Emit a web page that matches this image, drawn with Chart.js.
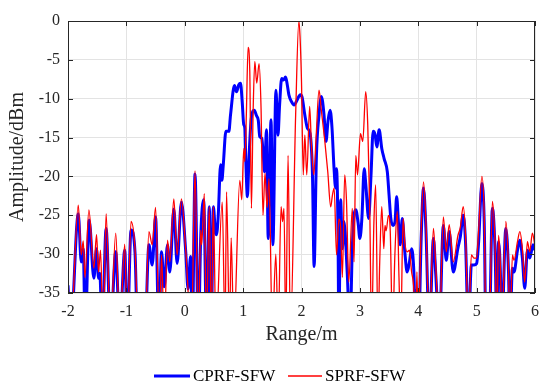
<!DOCTYPE html>
<html>
<head>
<meta charset="utf-8">
<script src="https://cdn.jsdelivr.net/npm/chart.js@4.4.1/dist/chart.umd.min.js"></script>
<style>
  html, body { margin: 0; padding: 0; background: #fff; }
  #wrap { width: 550px; height: 391px; }
</style>
</head>
<body>
<div id="wrap"><canvas id="chart" width="550" height="391"></canvas></div>
<script>
// CPRF-SFW (blue) - range in m, amplitude in dBm
const rangeCPRF = [-2.0, -1.955, -1.824, -1.773, -1.739, -1.705, -1.637, -1.557, -1.511, -1.477, -1.455, -1.415,
  -1.347, -1.273, -1.182, -1.114, -1.028, -0.985, -0.92, -0.852, -0.807, -0.682, -0.614, -0.557, -0.5, -0.443,
  -0.398, -0.352, -0.295, -0.256, -0.187, -0.131, -0.057, 0.017, 0.057, 0.1, 0.13, 0.176, 0.233, 0.275, 0.324,
  0.375, 0.42, 0.455, 0.49, 0.525, 0.545, 0.574, 0.614, 0.636, 0.66, 0.705, 0.756, 0.784, 0.852, 0.886, 0.926,
  0.955, 0.985, 1.01, 1.03, 1.045, 1.074, 1.1, 1.14, 1.19, 1.23, 1.26, 1.285, 1.32, 1.345, 1.368, 1.4, 1.43,
  1.478, 1.51, 1.562, 1.597, 1.625, 1.66, 1.693, 1.727, 1.756, 1.784, 1.83, 1.875, 1.91, 1.955, 1.98, 2.01,
  2.057, 2.102, 2.148, 2.188, 2.216, 2.256, 2.3, 2.34, 2.386, 2.42, 2.455, 2.49, 2.523, 2.556, 2.585, 2.6,
  2.625, 2.64, 2.67, 2.7, 2.727, 2.784, 2.83, 2.87, 2.9, 2.93, 2.97, 3.0, 3.035, 3.074, 3.102, 3.15, 3.19,
  3.227, 3.26, 3.29, 3.33, 3.375, 3.415, 3.47, 3.5, 3.53, 3.568, 3.602, 3.63, 3.66, 3.69, 3.727, 3.77, 3.81,
  3.85, 3.886, 3.925, 3.955, 3.98, 4.005, 4.05, 4.09, 4.13, 4.19, 4.26, 4.3, 4.36, 4.43, 4.48, 4.53, 4.6,
  4.68, 4.72, 4.77, 4.81, 4.86, 4.91, 4.955, 5.0, 5.034, 5.09, 5.13, 5.16, 5.216, 5.27, 5.318, 5.347, 5.375,
  5.41, 5.43, 5.5, 5.545, 5.57, 5.614, 5.64, 5.7, 5.74, 5.784, 5.824, 5.87, 5.91, 5.966, 6.0];
const ampCPRF = [-34, -40, -24.8, -31, -29.3, -40, -25.6, -33.1, -29.3, -33.1, -32.5, -40,
  -26.7, -40, -29.7, -40, -29.5, -40, -26.9, -29.8, -40, -40, -28.8, -31.4, -25.2, -40,
  -29.7, -34.2, -28.8, -32.3, -24.2, -31.2, -23.3, -29.7, -34.5, -30.3, -40, -19.7, -40, -27.5, -23.0,
  -40, -23.9, -40, -23.9, -27.1, -27.5, -25, -18.5, -20.5, -18.5, -14.2, -14.2, -12.1, -8.3, -9.1, -8.2,
  -8.0, -10.5, -13.3, -13.8, -17.7, -22.6, -17.7, -12.5, -11.5, -12.2, -12.8, -14.9, -15.1, -17.3, -19.4, -14.0, -28.0,
  -12.7, -28.8, -8.9, -14.7, -10.8, -7.4, -7.6, -7.2, -8.2, -9.5, -10.4, -10.8, -10.4, -9.7, -9.5, -9.8,
  -12.1, -13.8, -14.5, -19.8, -31.6, -17.3, -12.1, -9.7, -12.1, -15.5, -12.8, -11.5, -13.8, -18.8, -21.5, -19.0,
  -27, -40, -23, -29.3, -25.8, -32.5, -40, -29.3, -25, -24.3, -26, -28, -25.3, -19, -21.1, -25.4, -20,
  -14.2, -14.6, -16.2, -14.0, -16.4, -17.7, -19.4, -22.4, -25.4, -26.3, -25.8, -22.6, -25.8, -28.8, -25.4, -29.7, -32.3,
  -31, -29.3, -32.3, -40, -34.5, -40, -28, -21.5, -26.6, -40, -28.0, -32.6, -40, -26.3, -30.8, -27.1, -32.3,
  -29.2, -27.8, -25, -28.5, -40, -31.4, -31.4, -31.2, -28.5, -20.9, -25.8, -40, -40, -24.1, -30.1, -40, -28.4,
  -33, -40, -26.7, -32, -40, -31.8, -32.3, -29.5, -28.2, -30.5, -34.4, -29.5, -30.5, -28.8, -29.5];

// SPRF-SFW (red)
const rangeSPRF = [-2.0, -1.955, -1.824, -1.773, -1.739, -1.71, -1.642, -1.557, -1.511, -1.477, -1.443, -1.398,
  -1.347, -1.273, -1.182, -1.114, -1.028, -0.985, -0.92, -0.852, -0.795, -0.682, -0.614, -0.557, -0.5, -0.432,
  -0.398, -0.352, -0.295, -0.256, -0.187, -0.131, -0.057, 0.017, 0.114, 0.176, 0.233, 0.273, 0.29, 0.335, 0.37,
  0.42, 0.455, 0.49, 0.534, 0.642, 0.69, 0.716, 0.767, 0.795, 0.84, 0.943, 0.977, 1.011, 1.03, 1.055, 1.085,
  1.114, 1.142, 1.17, 1.2, 1.233, 1.273, 1.307, 1.34, 1.375, 1.41, 1.443, 1.5, 1.56, 1.6, 1.65, 1.676, 1.7,
  1.73, 1.77, 1.81, 1.9, 1.955, 1.975, 2.0, 2.03, 2.057, 2.09, 2.14, 2.17, 2.21, 2.25, 2.3, 2.34, 2.4, 2.45,
  2.5, 2.53, 2.56, 2.6, 2.64, 2.67, 2.7, 2.74, 2.77, 2.81, 2.87, 2.9, 2.93, 2.96, 3.01, 3.05, 3.1, 3.135,
  3.17, 3.2, 3.24, 3.27, 3.31, 3.34, 3.375, 3.41, 3.43, 3.45, 3.49, 3.52, 3.56, 3.6, 3.64, 3.67, 3.7, 3.74,
  3.77, 3.81, 3.85, 3.886, 3.92, 3.955, 3.977, 4.0, 4.045, 4.09, 4.13, 4.19, 4.26, 4.3, 4.36, 4.43, 4.48,
  4.53, 4.6, 4.68, 4.72, 4.77, 4.81, 4.86, 4.91, 4.955, 5.0, 5.034, 5.09, 5.13, 5.16, 5.216, 5.27, 5.318,
  5.347, 5.375, 5.41, 5.43, 5.5, 5.545, 5.57, 5.614, 5.64, 5.7, 5.74, 5.784, 5.824, 5.87, 5.91, 5.955, 6.0];
const ampSPRF = [-33.1, -40, -23.7, -30.1, -28.3, -33, -24.3, -31.8, -27.5, -32.3, -29.5, -40,
  -24.8, -40, -27.3, -40, -28.7, -40, -25.8, -29.3, -40, -40, -27.1, -28.8, -24.0, -40,
  -30.1, -40, -28.2, -31, -22.9, -30.1, -22.9, -29.5, -40, -19.3, -40, -26.9, -28.8, -22.2, -40,
  -23.9, -40, -23.9, -40, -23.3, -40, -22, -40, -27.9, -40, -20.5, -23, -16.4, -18.1, -12.1, -3.4,
  -6.5, -24.1, -12.1, -5.2, -8.0, -5.5, -11.2, -25, -19.6, -24, -20.3, -40, -30, -40, -23.9, -25.8, -24.1,
  -40, -17.3, -40, -12, 0, -2, -7.8, -19.8, -14.7, -19.8, -11, -16, -19.8, -15, -8.9, -11.5, -15.5, -19.4,
  -23.9, -22.4, -21.5, -30.1, -25.5, -26.5, -33, -19.8, -23, -33.6, -24.1, -31, -17.3, -19.8, -14.5, -15.5, -9.1, -13.4,
  -24.5, -40, -26, -21.1, -40, -31, -23.9, -29.3, -26.3, -27, -25, -27, -40, -30, -24.5, -33, -40, -25.4,
  -28.5, -29.7, -29.5, -32.3, -34, -40, -32.3, -40, -28, -20.7, -25.5, -40, -26.7, -31.5, -40, -25.2, -29.7,
  -26.2, -31, -27.6, -26.6, -23.9, -27.6, -40, -30.1, -30.5, -30.5, -27, -20, -25, -40, -40, -23.2, -29.3,
  -40, -27.6, -32.3, -40, -25.8, -31.6, -40, -30.1, -30.8, -28.4, -27.1, -29.3, -33.6, -28.4, -29.7, -27.3, -29];

const serif = '"Liberation Serif", "Times New Roman", serif';

// box round the plot with inward ticks, like the matlab figure
const boxTicks = {
  id: 'boxTicks',
  afterDatasetsDraw(chart) {
    const { ctx, chartArea: a, scales: { x, y } } = chart;
    ctx.save();
    ctx.strokeStyle = '#262626';
    ctx.lineWidth = 1;
    ctx.beginPath();
    x.ticks.forEach(t => {
      const px = Math.round(x.getPixelForValue(t.value)) + 0.5;
      ctx.moveTo(px, a.bottom); ctx.lineTo(px, a.bottom - 5);
      ctx.moveTo(px, a.top); ctx.lineTo(px, a.top + 5);
    });
    y.ticks.forEach(t => {
      const py = Math.round(y.getPixelForValue(t.value)) + 0.5;
      ctx.moveTo(a.left, py); ctx.lineTo(a.left + 5, py);
      ctx.moveTo(a.right, py); ctx.lineTo(a.right - 5, py);
    });
    ctx.stroke();
    ctx.strokeRect(Math.round(a.left) + 0.5, Math.round(a.top) + 0.5,
      Math.round(a.width) - 1, Math.round(a.height) - 1);
    ctx.restore();
  }
};

// legend under the axis: short line then label, matlab style spacing
const bottomLegend = {
  id: 'bottomLegend',
  afterDraw(chart) {
    const ctx = chart.ctx;
    const yMid = 376;
    const slots = [{ x0: 154, x1: 190, tx: 193 }, { x0: 288, x1: 322, tx: 325 }];
    ctx.save();
    ctx.font = '17px ' + serif;
    ctx.textBaseline = 'middle';
    ctx.fillStyle = '#000';
    chart.data.datasets.forEach((ds, i) => {
      const s = slots[i];
      ctx.strokeStyle = ds.borderColor;
      ctx.lineWidth = ds.borderWidth;
      ctx.beginPath();
      ctx.moveTo(s.x0, yMid);
      ctx.lineTo(s.x1, yMid);
      ctx.stroke();
      ctx.fillText(ds.label, s.tx, yMid + 1);
    });
    ctx.restore();
  }
};

const ctx = document.getElementById('chart').getContext('2d');
new Chart(ctx, {
  type: 'line',
  data: {
    datasets: [
      {
        label: 'CPRF-SFW',
        data: rangeCPRF.map((r, i) => ({ x: r, y: ampCPRF[i] })),
        borderColor: '#0000ff',
        backgroundColor: '#0000ff',
        borderWidth: 3,
        pointRadius: 0,
        cubicInterpolationMode: 'monotone',
        order: 1,
      },
      {
        label: 'SPRF-SFW',
        data: rangeSPRF.map((r, i) => ({ x: r, y: ampSPRF[i] })),
        borderColor: '#ff0000',
        backgroundColor: '#ff0000',
        borderWidth: 1.3,
        pointRadius: 0,
        cubicInterpolationMode: 'monotone',
        order: 0,
      },
    ],
  },
  options: {
    responsive: false,
    animation: false,
    layout: { padding: { top: 21, right: 15, left: 0, bottom: 38 } },
    plugins: {
      tooltip: { enabled: false },
      legend: { display: false },
    },
    scales: {
      x: {
        type: 'linear',
        min: -2,
        max: 6,
        ticks: { stepSize: 1, color: '#262626', padding: 11, font: { family: serif, size: 16, lineHeight: 1 } },
        grid: { color: '#e3e3e3', drawTicks: false },
        border: { display: false },
        title: { display: true, text: 'Range/m', color: '#262626', padding: { top: 3, bottom: 6 }, font: { family: serif, size: 20 } },
        afterFit: (scale) => { scale.height = 60; },
      },
      y: {
        min: -35,
        max: 0,
        ticks: { stepSize: 5, color: '#262626', padding: 8, font: { family: serif, size: 16 } },
        grid: { color: '#e3e3e3', drawTicks: false },
        border: { display: false },
        title: { display: true, text: 'Amplitude/dBm', color: '#262626', padding: { top: 6, bottom: 0 }, font: { family: serif, size: 20 } },
        afterFit: (scale) => { scale.width = 68; },
      },
    },
  },
  plugins: [boxTicks, bottomLegend],
});
</script>
</body>
</html>
